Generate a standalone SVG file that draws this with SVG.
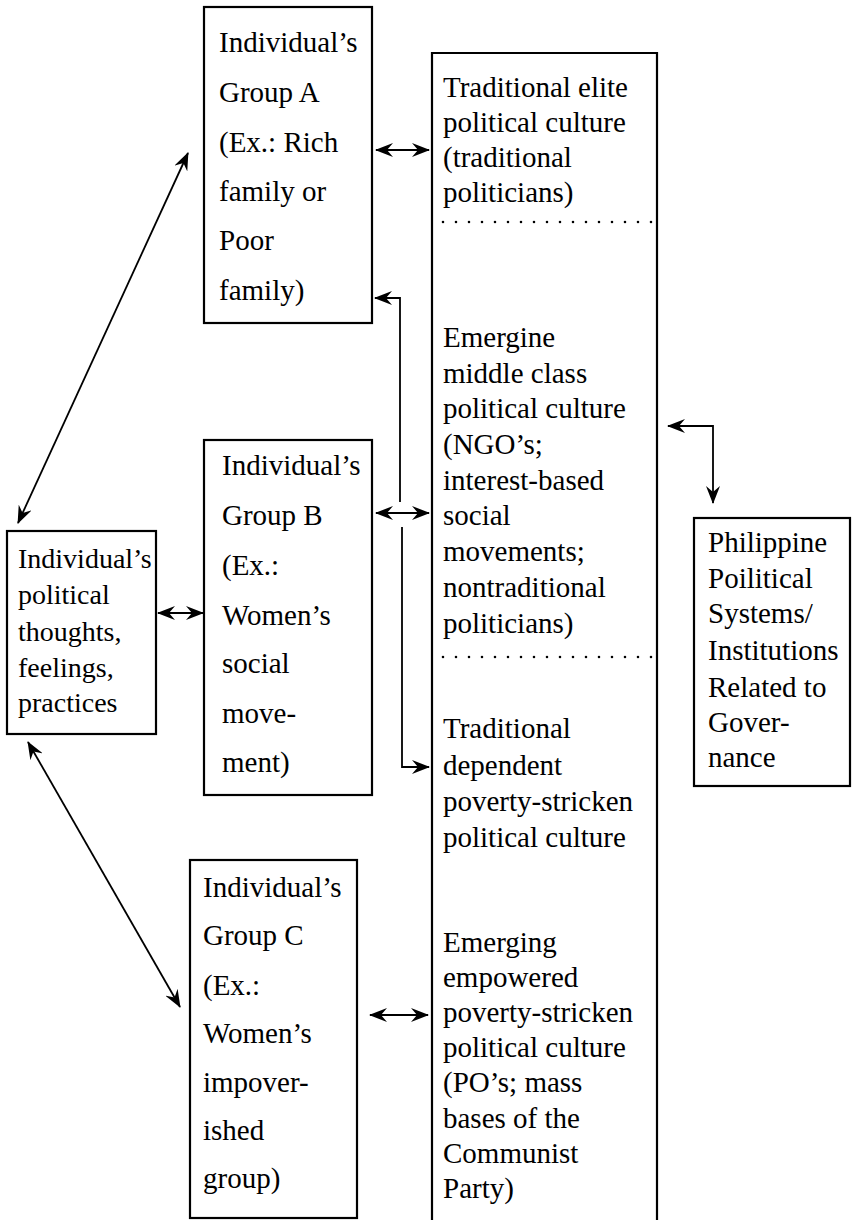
<svg xmlns="http://www.w3.org/2000/svg" width="852" height="1220" viewBox="0 0 852 1220">
<style>
.box{fill:none;stroke:#000;stroke-width:2.2}
.t{font-family:"Liberation Serif","Times New Roman",serif;font-size:29px;fill:#000}
.s{font-size:28px}
.c{fill:none;stroke:#000;stroke-width:1.8}
.dot{fill:none;stroke:#000;stroke-width:2.6;stroke-linecap:round;stroke-dasharray:0 13}
</style>
<defs>
<marker id="ah" viewBox="0 0 18 14" refX="17" refY="7" markerWidth="18" markerHeight="14" markerUnits="userSpaceOnUse" orient="auto-start-reverse">
<path d="M0,0 L18,7 L0,14 L6,7 z" fill="#000"/>
</marker>
</defs>
<rect width="852" height="1220" fill="#fff"/>

<g id="groupA">
<rect class="box" x="204" y="7" width="168" height="316"/>
<text class="t" x="219" y="52">Individual’s</text>
<text class="t" x="219" y="102">Group A</text>
<text class="t" x="219" y="152">(Ex.: Rich</text>
<text class="t" x="219" y="201">family or</text>
<text class="t" x="219" y="250">Poor</text>
<text class="t" x="219" y="300">family)</text>
</g>

<g id="groupB">
<rect class="box" x="204" y="440" width="168" height="355"/>
<text class="t" x="222" y="475">Individual’s</text>
<text class="t" x="222" y="525">Group B</text>
<text class="t" x="222" y="575">(Ex.:</text>
<text class="t" x="222" y="625">Women’s</text>
<text class="t" x="222" y="673">social</text>
<text class="t" x="222" y="723">move-</text>
<text class="t" x="222" y="772">ment)</text>
</g>

<g id="groupC">
<rect class="box" x="190" y="860" width="167" height="358"/>
<text class="t" x="203" y="897">Individual’s</text>
<text class="t" x="203" y="945">Group C</text>
<text class="t" x="203" y="995">(Ex.:</text>
<text class="t" x="203" y="1043">Women’s</text>
<text class="t" x="203" y="1092">impover-</text>
<text class="t" x="203" y="1140">ished</text>
<text class="t" x="203" y="1188">group)</text>
</g>

<g id="individual">
<rect class="box" x="7" y="531" width="149" height="203"/>
<text class="t s" x="18" y="568">Individual’s</text>
<text class="t s" x="18" y="604">political</text>
<text class="t s" x="18" y="641">thoughts,</text>
<text class="t s" x="18" y="677">feelings,</text>
<text class="t s" x="18" y="712">practices</text>
</g>

<g id="cultures">
<path class="box" d="M432,1220 L432,53 L657,53 L657,1220"/>
<line class="dot" x1="443" y1="222" x2="655" y2="222"/>
<line class="dot" x1="443" y1="657" x2="655" y2="657"/>
<text class="t" x="443" y="97">Traditional elite</text>
<text class="t" x="443" y="132">political culture</text>
<text class="t" x="443" y="167">(traditional</text>
<text class="t" x="443" y="202">politicians)</text>
<text class="t" x="443" y="347">Emergine</text>
<text class="t" x="443" y="383">middle class</text>
<text class="t" x="443" y="418">political culture</text>
<text class="t" x="443" y="454">(NGO’s;</text>
<text class="t" x="443" y="490">interest-based</text>
<text class="t" x="443" y="525">social</text>
<text class="t" x="443" y="561">movements;</text>
<text class="t" x="443" y="597">nontraditional</text>
<text class="t" x="443" y="633">politicians)</text>
<text class="t" x="443" y="738">Traditional</text>
<text class="t" x="443" y="775">dependent</text>
<text class="t" x="443" y="811">poverty-stricken</text>
<text class="t" x="443" y="847">political culture</text>
<text class="t" x="443" y="952">Emerging</text>
<text class="t" x="443" y="987">empowered</text>
<text class="t" x="443" y="1022">poverty-stricken</text>
<text class="t" x="443" y="1057">political culture</text>
<text class="t" x="443" y="1092">(PO’s; mass</text>
<text class="t" x="443" y="1128">bases of the</text>
<text class="t" x="443" y="1163">Communist</text>
<text class="t" x="443" y="1198">Party)</text>
</g>

<g id="philippine">
<rect class="box" x="694" y="518" width="156" height="268"/>
<text class="t" x="708" y="552">Philippine</text>
<text class="t" x="708" y="588">Poilitical</text>
<text class="t" x="708" y="623">Systems/</text>
<text class="t" x="708" y="660">Institutions</text>
<text class="t" x="708" y="697">Related to</text>
<text class="t" x="708" y="732">Gover-</text>
<text class="t" x="708" y="767">nance</text>
</g>

<g id="connectors">
<line class="c" x1="376" y1="150" x2="429" y2="150" marker-start="url(#ah)" marker-end="url(#ah)"/>
<path class="c" d="M400,502 L400,298 L375,298" marker-end="url(#ah)"/>
<path class="c" d="M402,527 L402,767 L429,767" marker-end="url(#ah)"/>
<line class="c" x1="376" y1="513" x2="429" y2="513" marker-start="url(#ah)" marker-end="url(#ah)"/>
<line class="c" x1="158" y1="613" x2="203" y2="613" marker-start="url(#ah)" marker-end="url(#ah)"/>
<line class="c" x1="18" y1="523" x2="188" y2="153" marker-start="url(#ah)" marker-end="url(#ah)"/>
<line class="c" x1="28" y1="742" x2="180" y2="1007" marker-start="url(#ah)" marker-end="url(#ah)"/>
<line class="c" x1="370" y1="1015" x2="428" y2="1015" marker-start="url(#ah)" marker-end="url(#ah)"/>
<path class="c" d="M668,426 L713,426 L713,503" marker-start="url(#ah)" marker-end="url(#ah)"/>
</g>
</svg>
